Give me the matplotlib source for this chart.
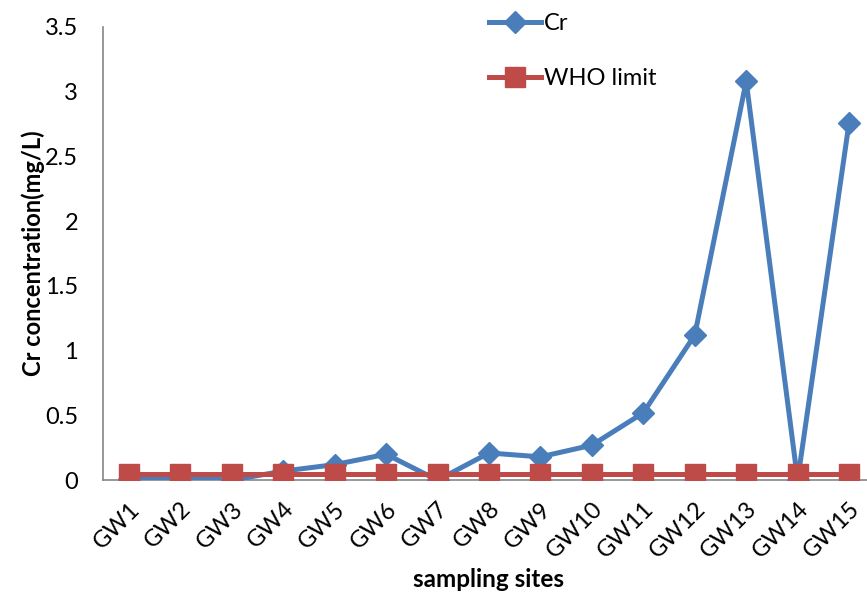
import matplotlib.pyplot as plt
import numpy as np

plt.rcParams['font.family'] = ['Lato', 'DejaVu Sans']

# Chromium concentration at each groundwater sampling site (mg/L)
sites = ['GW1', 'GW2', 'GW3', 'GW4', 'GW5', 'GW6', 'GW7', 'GW8',
         'GW9', 'GW10', 'GW11', 'GW12', 'GW13', 'GW14', 'GW15']
cr_values = [0.01, 0.02, 0.0, 0.07, 0.12, 0.2, 0.0, 0.21,
             0.18, 0.27, 0.52, 1.12, 3.08, 0.0, 2.76]
who_limit = [0.05] * len(sites)

blue = '#4a7ebb'
red = '#be4b48'

figure = plt.figure(figsize=(8.67, 5.95), dpi=100)
axe = figure.add_axes([0.119, 0.193, 0.89, 0.762])

x = np.arange(len(sites))
line_cr, = axe.plot(x, cr_values, color=blue, linewidth=3.6, marker='D',
                    markersize=11, label='Cr', zorder=3)
line_who, = axe.plot(x, who_limit, color=red, linewidth=3.6, marker='s',
                     markersize=14, label='WHO limit', zorder=4)

axe.set_xlim(-0.5, len(sites) - 0.5)
axe.set_ylim(0, 3.5)
axe.set_yticks(np.arange(0, 3.51, 0.5))
axe.set_yticklabels(['0', '0.5', '1', '1.5', '2', '2.5', '3', '3.5'])
axe.set_xticks(x)
axe.set_xticklabels(sites, rotation=45, ha='right', rotation_mode='anchor')
axe.tick_params(axis='both', length=0, labelsize=17)
axe.tick_params(axis='y', pad=18)
axe.tick_params(axis='x', pad=13)

for side in ('top', 'right'):
    axe.spines[side].set_visible(False)
for side in ('left', 'bottom'):
    axe.spines[side].set_color('#868686')
    axe.spines[side].set_linewidth(1.2)

axe.set_ylabel('Cr concentration(mg/L)', fontsize=17, fontweight='bold', labelpad=0)
axe.set_xlabel('sampling sites', fontsize=17.5, fontweight='bold', labelpad=4)

figure.legend(handles=[line_cr, line_who], loc='upper left',
              bbox_to_anchor=(0.54, 1.014), frameon=False, fontsize=17,
              handlelength=2.2, handletextpad=0.1, labelspacing=1.45)

figure.savefig('out.png', dpi=100)
